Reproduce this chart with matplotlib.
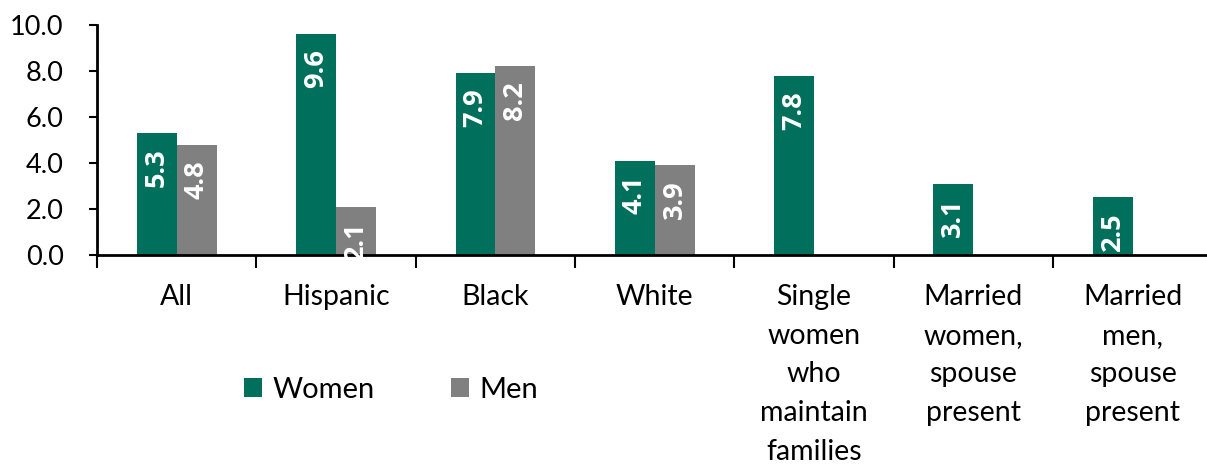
import numpy as np
import matplotlib
matplotlib.use('Agg')
import matplotlib.pyplot as plt

plt.rcParams['font.family'] = ['Lato', 'DejaVu Sans']

categories = ['All', 'Hispanic', 'Black', 'White',
              'Single\nwomen\nwho\nmaintain\nfamilies',
              'Married\nwomen,\nspouse\npresent',
              'Married\nmen,\nspouse\npresent']
women = [5.3, 9.6, 7.9, 4.1, 7.8, 3.1, 2.5]
men = [4.8, 2.1, 8.2, 3.9, np.nan, np.nan, np.nan]
yticks = [0, 2, 4, 6, 8, 10]

teal = '#00705C'
grey = '#808080'

fig = plt.figure(figsize=(12.07, 4.66), dpi=100)
ax = fig.add_axes([0.0804, 0.4528, 0.924, 0.4936])

x = np.arange(len(categories))
w = 0.25
b1 = ax.bar(x - w/2, women, w, color=teal, label='Women')
b2 = ax.bar(x + w/2, men, w, color=grey, label='Men')

for bars, vals in [(b1, women), (b2, men)]:
    for rect, v in zip(bars, vals):
        if np.isnan(v):
            continue
        ax.annotate('{:.1f}'.format(v),
                    (rect.get_x() + rect.get_width()/2, v),
                    xytext=(0, -11), textcoords='offset points',
                    ha='center', va='top', rotation=90,
                    color='white', fontsize=19.5, fontweight='bold',
                    family=['Open Sans', 'DejaVu Sans'])

ax.set_xlim(-0.5, len(categories) - 0.5)
ax.set_ylim(0, 10)
ax.set_yticks(yticks)
ax.set_yticklabels(['{:.1f}'.format(t) for t in yticks])

# boundaries get tick marks, centres get labels
ax.set_xticks(np.arange(len(categories) + 1) - 0.5)
ax.set_xticklabels([])
ax.set_xticks(x, minor=True)
ax.set_xticklabels(categories, minor=True, linespacing=1.6)
ax.tick_params(axis='x', which='major', direction='out', length=9, width=1.5)
ax.tick_params(axis='x', which='minor', length=0, pad=21,
               labelsize=20.5)
ax.tick_params(axis='y', direction='out', length=6, width=1.5, pad=18,
               labelsize=19.5)

for s in ['top', 'right']:
    ax.spines[s].set_visible(False)
for s in ['left', 'bottom']:
    ax.spines[s].set_linewidth(2)

fig.legend(handles=[b1, b2], loc='center', bbox_to_anchor=(0.324, 0.163),
           ncol=2, frameon=False, fontsize=21, handlelength=0.62,
           handleheight=0.62, handletextpad=0.35, columnspacing=2.6)

plt.savefig('out.png', dpi=100)
